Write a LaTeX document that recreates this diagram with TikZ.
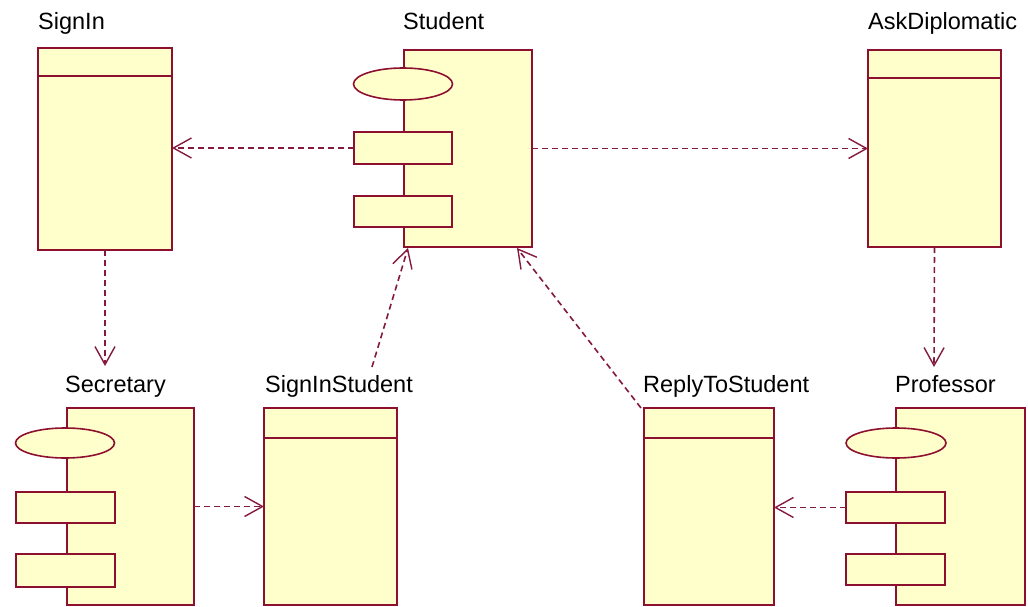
\documentclass[tikz,border=0pt]{standalone}
\usepackage{fontspec}
\setmainfont{Liberation Sans}
\usetikzlibrary{arrows.meta,shapes.geometric}
\definecolor{rborder}{HTML}{8E1030}
\definecolor{rfill}{HTML}{FFFFCC}
\definecolor{rdash}{HTML}{841A40}
\tikzset{
  x=1pt, y=-1pt,
  box/.style={draw=rborder, fill=rfill, line width=1.9pt, inner sep=0pt, outer sep=0pt, anchor=north west},
  ell/.style={draw=rborder, fill=rfill, line width=1.6pt, ellipse, inner sep=0pt, outer sep=0pt},
  divider/.style={draw=rborder, line width=1.9pt},
  lbl/.style={anchor=base west, inner sep=0pt, font=\fontsize{23.5}{26}\selectfont},
  dep/.style={draw=rdash, line width=1.6pt, dash pattern=on 6pt off 4pt, -{Straight Barb[length=18pt,width=20pt,line width=1.4pt]}}
}
\begin{document}
\begin{tikzpicture}
\useasboundingbox (0,0) rectangle (1028,607);
\fill[white] (0,0) rectangle (1028,607);

% ---- SignIn (class) ----
\node[lbl] (signinL) at (38,30) {SignIn};
\node[box, minimum width=134pt, minimum height=202pt] (signin) at (38,48) {};
\draw[divider] (38,76) -- (172,76);

% ---- Student (component) ----
\node[lbl] (studentL) at (403,30) {Student};
\node[box, minimum width=128pt, minimum height=197pt] (student) at (404,50) {};
\node[ell, minimum width=99pt, minimum height=32pt] (studentE) at (403,84) {};
\node[box, minimum width=98pt, minimum height=32pt] (studentR1) at (354,132) {};
\node[box, minimum width=98pt, minimum height=31pt] (studentR2) at (354,196) {};

% ---- AskDiplomatic (class) ----
\node[lbl] (askL) at (868,30) {AskDiplomatic};
\node[box, minimum width=133pt, minimum height=197pt] (ask) at (868,50) {};
\draw[divider] (868,78) -- (1001,78);

% ---- Secretary (component) ----
\node[lbl] (secL) at (65,392) {Secretary};
\node[box, minimum width=127pt, minimum height=197pt] (sec) at (67,408) {};
\node[ell, minimum width=99pt, minimum height=30pt] (secE) at (65,443) {};
\node[box, minimum width=99pt, minimum height=31pt] (secR1) at (16,492) {};
\node[box, minimum width=99pt, minimum height=33pt] (secR2) at (16,554) {};

% ---- SignInStudent (class) ----
\node[lbl] (sisL) at (265,392) {SignInStudent};
\node[box, minimum width=133pt, minimum height=197pt] (sis) at (264,408) {};
\draw[divider] (264,438) -- (397,438);

% ---- ReplyToStudent (class) ----
\node[lbl] (rtsL) at (643,392) {ReplyToStudent};
\node[box, minimum width=130pt, minimum height=197pt] (rts) at (644,408) {};
\draw[divider] (644,438) -- (774,438);

% ---- Professor (component) ----
\node[lbl] (profL) at (895,392) {Professor};
\node[box, minimum width=129pt, minimum height=197pt] (prof) at (896,408) {};
\node[ell, minimum width=100pt, minimum height=30pt] (profE) at (896,443) {};
\node[box, minimum width=99pt, minimum height=31pt] (profR1) at (846,492) {};
\node[box, minimum width=99pt, minimum height=31pt] (profR2) at (846,554) {};

% ---- connector end points ----
\coordinate (secIn) at (105,366);
\coordinate (profIn) at (934,367);
\coordinate (sisOut) at (372,367);
\coordinate (studInL) at (408,248);
\coordinate (rtsOut) at (641,408);
\coordinate (studInR) at (517,248);

% ---- dependencies ----
\draw[dep] (studentR1.west) -- (studentR1.west -| signin.east);
\draw[dep] (student.east) -- (student.east -| ask.west);
\draw[dep] (signin.south) -- (secIn);
\draw[dep] (ask.south) -- (profIn);
\draw[dep] (sec.east) -- (sec.east -| sis.west);
\draw[dep] (profR1.west) -- (profR1.west -| rts.east);
\draw[dep] (sisOut) -- (studInL);
\draw[dep] (rtsOut) -- (studInR);
\end{tikzpicture}
\end{document}
